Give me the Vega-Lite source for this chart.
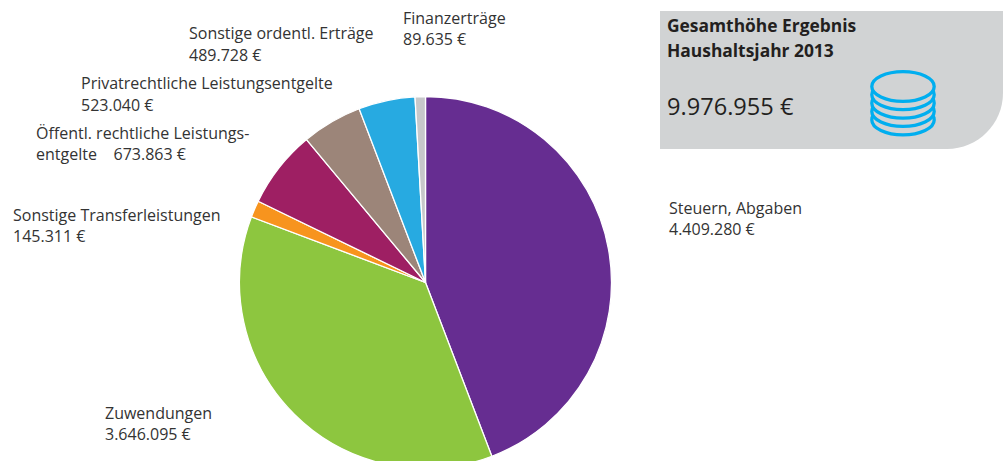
{
"$schema":"https://vega.github.io/schema/vega-lite/v6.json",
"width":1003,"height":461,"padding":0,"autosize":{"type":"none"},
"background":"white",
"config":{"view":{"stroke":null},"axis":{"domain":false}},
"datasets":{
"slices":[
{"kategorie":"Steuern, Abgaben","betrag":4409280,"rang":1},
{"kategorie":"Zuwendungen","betrag":3646095,"rang":2},
{"kategorie":"Sonstige Transferleistungen","betrag":145311,"rang":3},
{"kategorie":"Öffentl. rechtliche Leistungsentgelte","betrag":673863,"rang":4},
{"kategorie":"Privatrechtliche Leistungsentgelte","betrag":523040,"rang":5},
{"kategorie":"Sonstige ordentl. Erträge","betrag":489728,"rang":6},
{"kategorie":"Finanzerträge","betrag":89635,"rang":7}
],
"labels":[
{"text":"Sonstige ordentl. Erträge","px":189,"py":39},
{"text":"489.728 €","px":189,"py":61},
{"text":"Finanzerträge","px":403,"py":24},
{"text":"89.635 €","px":403,"py":45},
{"text":"Privatrechtliche Leistungsentgelte","px":81,"py":89},
{"text":"523.040 €","px":81,"py":111},
{"text":"Öffentl. rechtliche Leistungs-","px":36,"py":139},
{"text":"entgelte\u00a0\u00a0\u00a0\u00a0673.863 €","px":36,"py":160},
{"text":"Sonstige Transferleistungen","px":13,"py":221},
{"text":"145.311 €","px":13,"py":242},
{"text":"Zuwendungen","px":105,"py":419},
{"text":"3.646.095 €","px":105,"py":440},
{"text":"Steuern, Abgaben","px":669,"py":214},
{"text":"4.409.280 €","px":669,"py":235}
],
"titleLines":[
{"text":"Gesamthöhe Ergebnis","px":667,"py":32},
{"text":"Haushaltsjahr 2013","px":667,"py":57}
],
"total":[{"text":"9.976.955 €","px":667,"py":115}],
"box":[{"x0":660,"x1":1003,"y0":11,"y1":149}],
"coins":[{"px":903,"py":120},{"px":903,"py":111.6},{"px":903,"py":103.2},{"px":903,"py":94.8},{"px":903,"py":86.5}]
},
"layer":[
{"data":{"name":"box"},
 "mark":{"type":"rect","fill":"#d1d3d4","cornerRadiusBottomRight":56},
 "encoding":{
  "x":{"field":"x0","type":"quantitative","scale":{"domain":[0,1003],"nice":false,"zero":false},"axis":null},
  "x2":{"field":"x1"},
  "y":{"field":"y0","type":"quantitative","scale":{"domain":[461,0],"nice":false,"zero":false},"axis":null},
  "y2":{"field":"y1"}}},
{"data":{"name":"slices"},
 "mark":{"type":"arc","outerRadius":186,"stroke":"white","strokeWidth":1.3},
 "encoding":{
  "x":{"datum":425.5,"type":"quantitative"},
  "y":{"datum":282.5,"type":"quantitative"},
  "theta":{"field":"betrag","type":"quantitative","stack":true},
  "order":{"field":"rang","type":"quantitative"},
  "color":{"field":"kategorie","type":"nominal","legend":null,"scale":{
    "domain":["Steuern, Abgaben","Zuwendungen","Sonstige Transferleistungen","Öffentl. rechtliche Leistungsentgelte","Privatrechtliche Leistungsentgelte","Sonstige ordentl. Erträge","Finanzerträge"],
    "range":["#662d91","#8dc63f","#f7941e","#9e1f63","#9c8579","#27aae1","#c7c8ca"]}}}},
{"data":{"name":"coins"},
 "mark":{"type":"point","filled":true,"fill":"#d1d3d4","stroke":"#00aeef","strokeWidth":3.3,"opacity":1,"size":3894,"shape":"M-1,0A1,0.476 0 1,0 1,0A1,0.476 0 1,0 -1,0Z"},
 "encoding":{
  "x":{"field":"px","type":"quantitative"},
  "y":{"field":"py","type":"quantitative"}}},
{"data":{"name":"labels"},
 "mark":{"type":"text","align":"left","baseline":"alphabetic","font":"Open Sans","fontSize":16,"color":"#333333"},
 "encoding":{
  "x":{"field":"px","type":"quantitative"},
  "y":{"field":"py","type":"quantitative"},
  "text":{"field":"text"}}},
{"data":{"name":"titleLines"},
 "mark":{"type":"text","align":"left","baseline":"alphabetic","font":"Open Sans","fontWeight":"bold","fontSize":17.4,"color":"#231f20"},
 "encoding":{
  "x":{"field":"px","type":"quantitative"},
  "y":{"field":"py","type":"quantitative"},
  "text":{"field":"text"}}},
{"data":{"name":"total"},
 "mark":{"type":"text","align":"left","baseline":"alphabetic","font":"Open Sans","fontSize":23.6,"color":"#231f20"},
 "encoding":{
  "x":{"field":"px","type":"quantitative"},
  "y":{"field":"py","type":"quantitative"},
  "text":{"field":"text"}}}
]
}
